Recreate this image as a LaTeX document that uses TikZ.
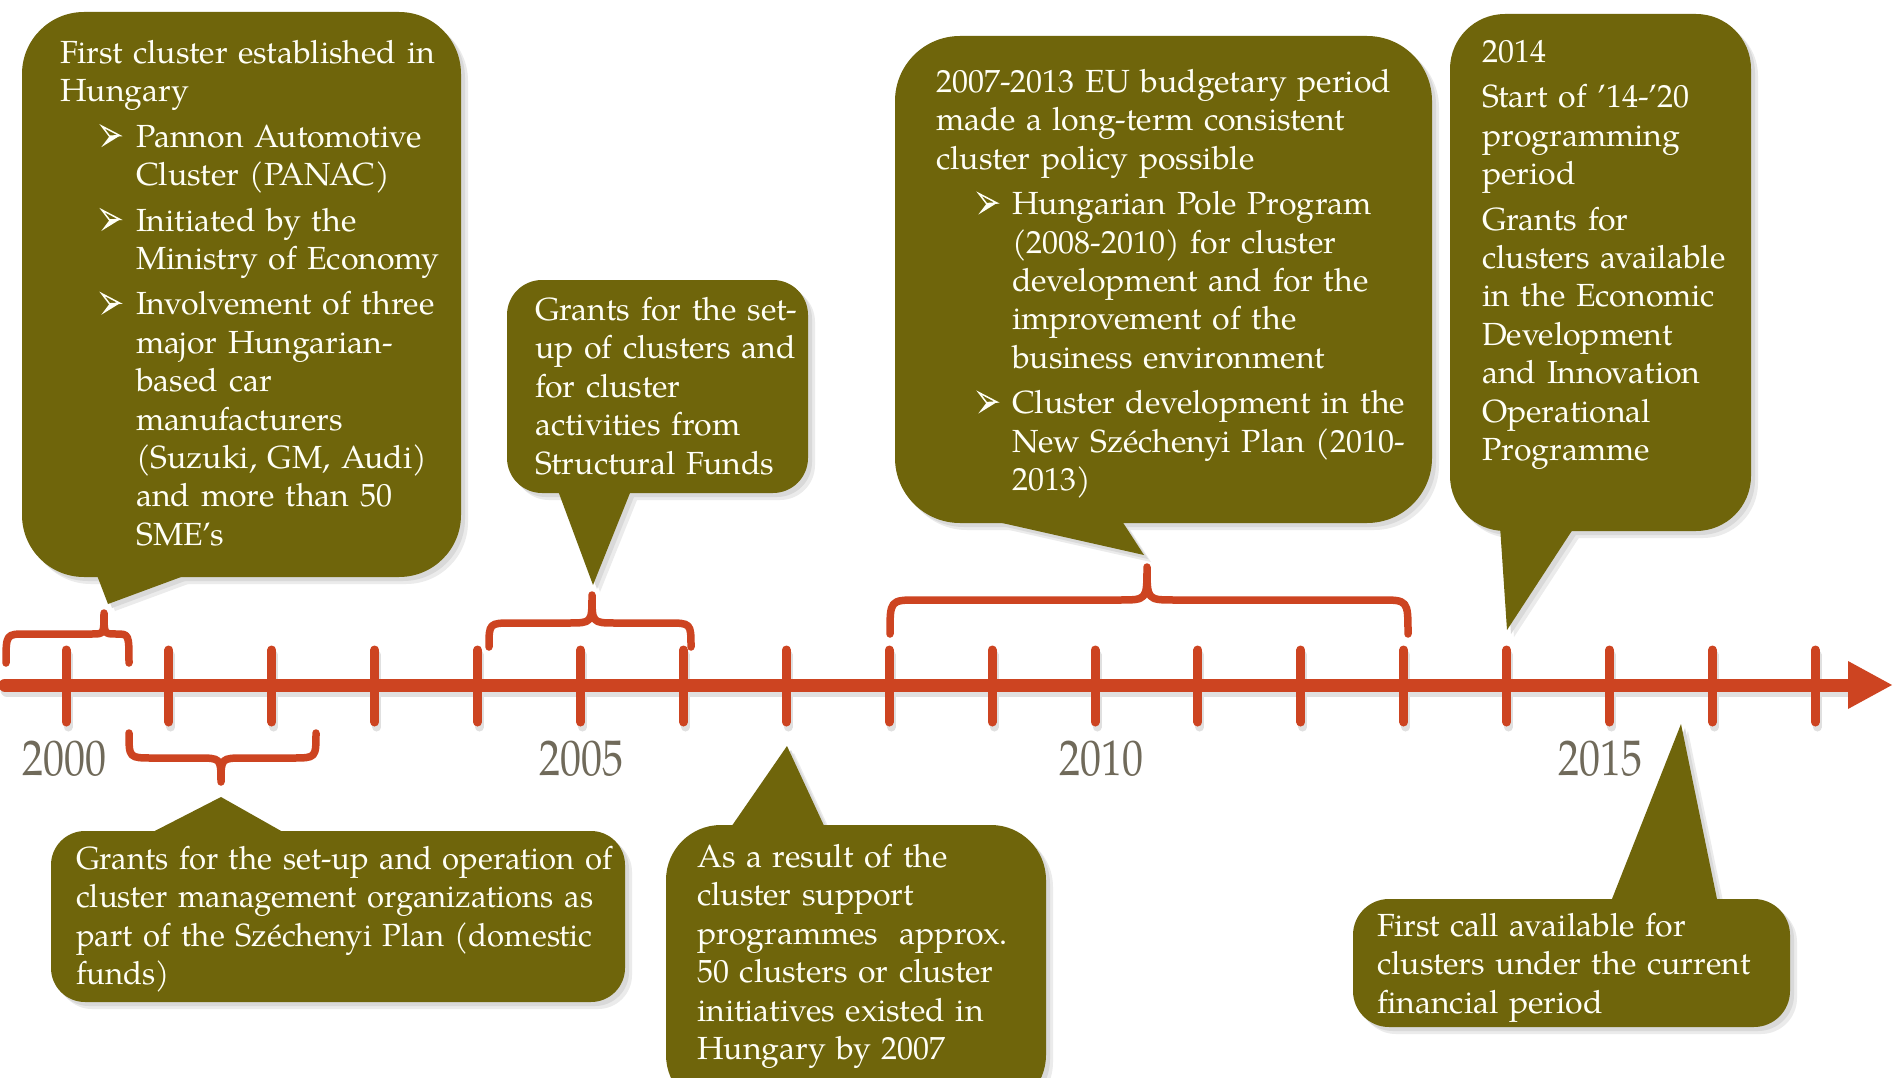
\documentclass[tikz,border=0pt]{standalone}
\usepackage{fontspec}
\setmainfont{texgyrepagella-regular.otf}
\newfontfamily\yearfont{texgyrepagella-regular.otf}[FakeStretch=0.84]
\newfontfamily\condfont{texgyrepagella-regular.otf}[FakeStretch=0.97]
\definecolor{olivec}{RGB}{111,101,11}
\definecolor{axisc}{RGB}{205,68,33}
\definecolor{yearc}{RGB}{112,106,90}
\definecolor{textc}{RGB}{255,255,246}
\newcommand\bodyfont{\fontsize{32}{38.4}\selectfont}
\newcommand\bul{\tikz[baseline=0pt,x=1pt,y=1pt]{%
  \fill[textc] (8.3,11) -- (18.7,11.6) -- (0,0) -- cycle;
  \draw[textc, line width=1.5pt, line join=miter] (0.7,21) -- (18.7,11.6) -- (8.3,11) -- cycle;}}
\newcommand\bitem[3]{\par\noindent\hangindent=#3\hangafter=1\hspace*{#1}\makebox[#2][l]{\bul}}
\newcommand\bubble[6]{%
  \fill[black!8, rounded corners=#5, shift={(7,7)}] (#1,#2) rectangle (#3,#4);
  \fill[black!8, shift={(7,7)}] #6;
  \fill[black!15, rounded corners=#5, shift={(4,4)}] (#1,#2) rectangle (#3,#4);
  \fill[black!15, shift={(4,4)}] #6;
  \fill[olivec, rounded corners=#5] (#1,#2) rectangle (#3,#4);
  \fill[olivec] #6;
}
\newcommand\bracepath[9]{%
  \draw[bracel] (#1,#3) .. controls (#1,#4) .. (#1+#7,#4) -- (#5-#9,#4)
    .. controls (#5,#4) .. (#5,#6) .. controls (#5,#4) .. (#5+#9,#4)
    -- (#2-#8,#4) .. controls (#2,#4) .. (#2,#3);}
\begin{document}
\begin{tikzpicture}[x=1pt,y=-1pt,
  txt/.style={anchor=north west, inner sep=0pt, text=textc, text width=#1, font=\bodyfont},
  yearlab/.style={anchor=base, inner sep=0pt, text=yearc, font=\yearfont\fontsize{50}{50}\selectfont},
  axisline/.style={draw=axisc, line width=13pt, line cap=round},
  tickline/.style={draw=axisc, line width=9pt, line cap=round},
  bracel/.style={draw=axisc, line width=7.5pt, line cap=round, line join=round},
]
\useasboundingbox (0,0) rectangle (1893,1078);
\clip (0,0) rectangle (1893,1078);
\fill[white] (0,0) rectangle (1893,1078);

% ---- callout bubbles ----
\bubble{22}{12}{461}{577}{62}{(95,570) -- (108,604) -- (200,570) -- cycle}
\bubble{507}{280}{808}{493}{35}{(557,488) -- (593,585) -- (632,488) -- cycle}
\bubble{895}{36}{1432}{523}{65}{(980,518) -- (1144,555) -- (1120,518) -- cycle}
\bubble{1450}{14}{1751}{531}{55}{(1500,526) -- (1507,630) -- (1575,526) -- cycle}
\bubble{51}{831}{625}{1002}{34}{(145,836) -- (221,797) -- (290,836) -- cycle}
\bubble{666}{825}{1046}{1110}{55}{(729,830) -- (787,746) -- (826,830) -- cycle}
\bubble{1353}{899}{1790}{1027}{36}{(1610,904) -- (1681,724) -- (1718,904) -- cycle}

% ---- axis shadow ----
\begin{scope}[shift={(2,5)}]
  \draw[axisline, draw=black!12] (5,685) -- (1852,685);
  \foreach \i in {0,...,17} \draw[tickline, draw=black!12] (66+102.9*\i,650) -- (66+102.9*\i,722);
\end{scope}
% ---- axis ----
\draw[axisline] (5,685) coordinate (axstart) -- (1852,685) coordinate (axend);
\fill[axisc] (1848,661) -- (1892,685) -- (1848,709) -- cycle;
\foreach \i in {0,...,17} \draw[tickline] (66+102.9*\i,650) -- (66+102.9*\i,722);

% ---- braces ----
\bracepath{6}{129}{663}{634}{104}{613}{20}{13}{12}
\bracepath{489}{691}{647}{623}{592}{595}{24}{24}{24}
\bracepath{890}{1408}{634}{600}{1147}{567}{28}{28}{28}
\bracepath{129}{316}{733}{758}{221}{782}{24}{24}{24}

% ---- year labels ----
\node[yearlab] (y2000) at (64,775) {2000};
\node[yearlab] (y2005) at (581,775) {2005};
\node[yearlab] (y2010) at (1101,775) {2010};
\node[yearlab] (y2015) at (1600,775) {2015};

% ---- texts ----
\node[txt=400] (t1) at (60,40) {\setlength\parskip{7pt}\noindent
First cluster established in\newline Hungary
\bitem{41pt}{35pt}{76pt}Pannon Automotive\newline Cluster (PANAC)
\bitem{41pt}{35pt}{76pt}Initiated by the\newline Ministry of Economy
\bitem{41pt}{35pt}{76pt}Involvement of three\newline major Hungarian-\newline based car\newline manufacturers\newline (Suzuki, GM, Audi)\newline and more than 50\newline SME’s\par};

\node[txt=265] (t2) at (535,297) {\noindent Grants for the set-\newline up of clusters and\newline for cluster\newline activities from\newline Structural Funds\par};

\node[txt=480] (t3) at (936,69) {\setlength\parskip{7pt}\noindent
2007-2013 EU budgetary period\newline made a long-term consistent\newline cluster policy possible
\bitem{42pt}{34pt}{76pt}Hungarian Pole Program\newline (2008-2010) for cluster\newline development and for the\newline improvement of the\newline business environment
\bitem{42pt}{34pt}{76pt}Cluster development in the\newline New Széchenyi Plan (2010-\newline 2013)\par};

\node[txt=265] (t4) at (1482,40) {\setlength\parskip{7pt}\noindent
2014\par\noindent
Start of ’14-’20\newline programming\newline period\par\noindent
Grants for\newline clusters available\newline in the Economic\newline Development\newline and Innovation\newline Operational\newline Programme\par};

\node[txt=600] (t5) at (76,846) {\condfont\noindent Grants for the set-up and operation of\newline cluster management organizations as\newline part of the Széchenyi Plan (domestic\newline funds)\par};

\node[txt=340] (t6) at (697,844) {\noindent As a result of the\newline cluster support\newline programmes\ \ approx.\newline 50 clusters or cluster\newline initiatives existed in\newline Hungary by 2007\par};

\node[txt=400] (t7) at (1377,913) {\noindent First call available for\newline clusters under the current\newline financial period\par};
\end{tikzpicture}
\end{document}
